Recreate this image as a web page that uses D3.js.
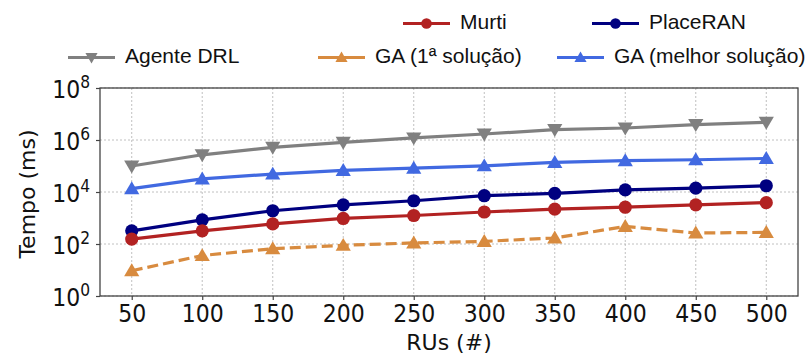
<!DOCTYPE html>
<html><head><meta charset="utf-8">
<script src="https://cdn.jsdelivr.net/npm/d3@7"></script>
<style>body{margin:0;background:#fff}svg{display:block}</style>
</head><body>
<script>
const rus = [50,100,150,200,250,300,350,400,450,500];
const agenteDRL = [1.0e5,2.7e5,5.2e5,8.1e5,1.2e6,1.7e6,2.5e6,2.9e6,3.9e6,4.8e6];
const gaMelhor = [1.35e4,3.2e4,4.9e4,6.8e4,8.3e4,1.02e5,1.38e5,1.6e5,1.74e5,1.95e5];
const placeRAN = [320,850,1900,3200,4600,7200,8900,12000,14000,17400];
const murti = [155,320,590,960,1250,1700,2200,2600,3200,3900];
const ga1 = [9.4,36,66,89,110,126,170,475,265,280];
const yTickExps = [0,2,4,6,8];
const seriesNames = ["Agente DRL","Murti","PlaceRAN","GA (1ª solução)","GA (melhor solução)"];

const W=809,H=354;
const L=100,R=798,T=88,B=296;
const SY=1.15;
const svg=d3.select("body").append("svg").attr("width",W).attr("height",H);
const x=d3.scaleLinear().domain([27.5,522.5]).range([L,R]);
const y=d3.scaleLog().domain([1,1e8]).range([B,T]);

// grid
const g=svg.append("g");
g.selectAll(".gx").data(rus).join("line").attr("x1",d=>x(d)).attr("x2",d=>x(d)).attr("y1",T).attr("y2",B)
 .attr("stroke","#b0b0b0").attr("stroke-width",0.8).attr("stroke-dasharray","2,2");
g.selectAll(".gy").data(yTickExps).join("line").attr("y1",d=>y(Math.pow(10,d))).attr("y2",d=>y(Math.pow(10,d))).attr("x1",L).attr("x2",R)
 .attr("stroke","#b0b0b0").attr("stroke-width",0.8).attr("stroke-dasharray","2,2");

// axes
const xAxis=d3.axisBottom(x).tickValues(rus).tickSize(4).tickFormat("");
const ax=svg.append("g").attr("transform",`translate(0,${B})`).call(xAxis);
ax.select(".domain").remove();
ax.selectAll("line").attr("stroke","#444").attr("stroke-width",1.2);
ax.selectAll(".tick").each(function(d){
  d3.select(this).append("text").attr("transform",`translate(0,${25.5}) scale(1,${SY})`)
   .attr("text-anchor","middle").attr("font-family","DejaVu Sans").attr("font-size",22).attr("fill","#111")
   .text(d3.format("d")(d));
});

const yAxis=d3.axisLeft(y).tickValues(yTickExps.map(e=>Math.pow(10,e))).tickSize(4).tickFormat("");
const ay=svg.append("g").attr("transform",`translate(${L},0)`).call(yAxis);
ay.select(".domain").remove();
ay.selectAll("line").attr("stroke","#444").attr("stroke-width",1.2);
ay.selectAll(".tick").each(function(d,i){
  const t=d3.select(this).append("text").attr("transform",`translate(-10,9.5) scale(1,${SY})`).attr("text-anchor","end")
   .attr("font-family","DejaVu Sans").attr("fill","#111");
  t.append("tspan").attr("font-size",22).text("10");
  t.append("tspan").attr("font-size",15.5).attr("dy",-8.5).text(yTickExps[i]);
});

svg.append("rect").attr("x",L).attr("y",T).attr("width",R-L).attr("height",B-T)
 .attr("fill","none").attr("stroke","#444").attr("stroke-width",1.3);

// labels
svg.append("text").attr("x",(L+R)/2).attr("y",350).attr("text-anchor","middle")
 .attr("font-family","DejaVu Sans").attr("font-size",22).attr("fill","#111").text("RUs (#)");
svg.append("text").attr("transform","translate(35,194) rotate(-90)").attr("text-anchor","middle")
 .attr("font-family","DejaVu Sans").attr("font-size",22).attr("fill","#111").text("Tempo (ms)");

const series=[
 {name:seriesNames[0],vals:agenteDRL,color:"#808080",marker:"tdown",dash:null},
 {name:seriesNames[4],vals:gaMelhor,color:"#4169e1",marker:"tup",dash:null},
 {name:seriesNames[2],vals:placeRAN,color:"#000080",marker:"circle",dash:null},
 {name:seriesNames[1],vals:murti,color:"#b22222",marker:"circle",dash:null},
 {name:seriesNames[3],vals:ga1,color:"#d88b3f",marker:"tup",dash:"11,5"}
];
const line=d3.line().x((d,i)=>x(rus[i])).y(d=>y(d));
function marker(sel,type,color,s){
  if(type==="circle") sel.append("circle").attr("r",6.6*s).attr("fill",color);
  else {
    const h=7.4*s, w=7.6*s;
    const p = type==="tup" ? `M0,${-h}L${w},${h*0.75}L${-w},${h*0.75}Z` : `M0,${h}L${w},${-h*0.75}L${-w},${-h*0.75}Z`;
    sel.append("path").attr("d",p).attr("fill",color);
  }
}
series.forEach(s=>{
  svg.append("path").datum(s.vals).attr("d",line).attr("fill","none").attr("stroke",s.color)
   .attr("stroke-width",3.2).attr("stroke-dasharray",s.dash);
  s.vals.forEach((v,i)=>{
    const m=svg.append("g").attr("transform",`translate(${x(rus[i])},${y(v)})`);
    marker(m,s.marker,s.color,1);
  });
});

// legend
const legendLayout=[
 {name:seriesNames[1],lx:403,ly:23.5},
 {name:seriesNames[2],lx:592,ly:23.5},
 {name:seriesNames[0],lx:68,ly:57.5},
 {name:seriesNames[3],lx:318,ly:57.5},
 {name:seriesNames[4],lx:557,ly:57.5}
];
legendLayout.forEach(e=>{
  const s=series.find(d=>d.name===e.name);
  const lg=svg.append("g").attr("transform",`translate(${e.lx},${e.ly})`);
  lg.append("line").attr("x1",0).attr("x2",47).attr("stroke",s.color).attr("stroke-width",3.2);
  const m=lg.append("g").attr("transform","translate(23.5,0)");
  marker(m,s.marker,s.color,0.8);
  lg.append("text").attr("x",57).attr("y",5.5).attr("font-family","Liberation Sans").attr("font-size",21)
   .attr("fill","#111").text(e.name);
});
</script>
</body></html>
